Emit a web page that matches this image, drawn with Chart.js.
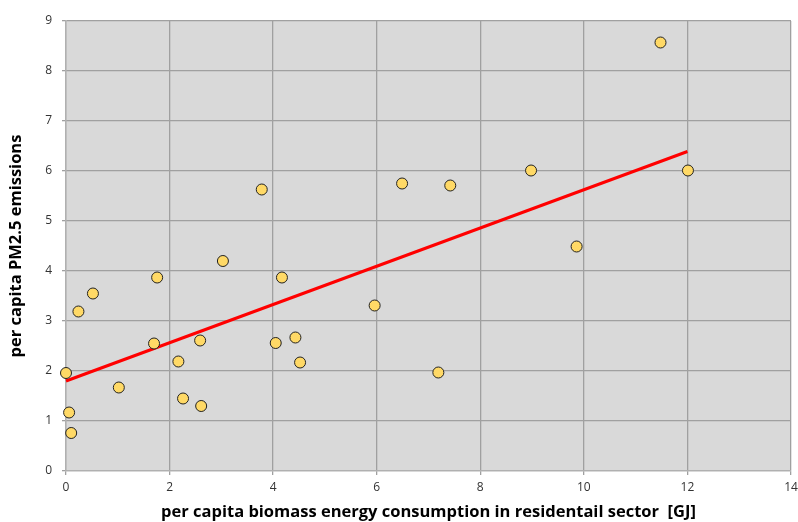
<!DOCTYPE html>
<html>
<head>
<meta charset="utf-8">
<script src="https://cdn.jsdelivr.net/npm/chart.js@4"></script>
<style>
  html, body { margin: 0; padding: 0; background: #fff; }
  #wrap { width: 798px; height: 522px; }
</style>
</head>
<body>
<div id="wrap"><canvas id="pmChart" width="798" height="522"></canvas></div>
<script>
// biomass energy per capita [GJ] vs PM2.5 emissions per capita
const energyGJ = [0.00, 0.06, 0.10, 0.24, 0.52, 1.02, 1.70, 1.76, 2.17, 2.26, 2.59, 2.61, 3.03,
                  3.78, 4.05, 4.17, 4.43, 4.52, 5.96, 6.49, 7.19, 7.42, 8.98, 9.86, 11.48, 12.01];
const pm25 = [1.96, 1.17, 0.76, 3.19, 3.55, 1.67, 2.55, 3.87, 2.19, 1.45, 2.61, 1.30, 4.20,
              5.63, 2.56, 3.87, 2.67, 2.17, 3.31, 5.75, 1.97, 5.71, 6.01, 4.49, 8.57, 6.01];
// linear trend line end points
const trendX = [0, 12];
const trendY = [1.80, 6.39];

const xTicks = [0, 2, 4, 6, 8, 10, 12, 14];
const yTicks = [0, 1, 2, 3, 4, 5, 6, 7, 8, 9];

const tickFont = { family: "'Open Sans', 'Liberation Sans', sans-serif", size: 12 };
const titleFont = { family: "'Open Sans', 'Liberation Sans', sans-serif", size: 16.5, weight: 'bold' };

// fill the plot area grey
const plotBg = {
    id: 'plotBg',
    beforeDraw(chart) {
        const { ctx, chartArea: a } = chart;
        ctx.save();
        ctx.fillStyle = '#d9d9d9';
        ctx.fillRect(a.left, a.top, a.right - a.left, a.bottom - a.top);
        ctx.restore();
    }
};

const ctx = document.getElementById('pmChart');
new Chart(ctx, {
    type: 'scatter',
    data: {
        datasets: [{
            label: 'trend',
            type: 'line',
            data: trendX.map((x, i) => ({ x, y: trendY[i] })),
            borderColor: '#ff0000',
            borderWidth: 3,
            pointRadius: 0,
            fill: false,
            clip: false,
            order: 2
        }, {
            label: 'countries',
            data: energyGJ.map((x, i) => ({ x, y: pm25[i] })),
            backgroundColor: '#ffd966',
            borderColor: '#222',
            borderWidth: 1,
            pointRadius: 5.5,
            clip: false,
            order: 1
        }]
    },
    options: {
        responsive: false,
        animation: false,
        layout: { padding: { top: 21, right: 0, left: 0, bottom: 0 } },
        plugins: {
            legend: { display: false },
            tooltip: { enabled: false }
        },
        scales: {
            x: {
                type: 'linear',
                min: 0,
                max: 14,
                afterBuildTicks: s => { s.ticks = xTicks.map(v => ({ value: v })); },
                afterFit: s => { s.height = 51; s.paddingRight = 7; },
                ticks: { font: tickFont, color: '#333', padding: 5 },
                grid: { color: '#a0a0a0', lineWidth: 1.3, tickLength: 4, tickColor: '#a0a0a0' },
                border: { color: '#b0b0b0', width: 1.3 },
                title: {
                    display: true,
                    text: 'per capita biomass energy consumption in residentail sector  [GJ]',
                    font: titleFont,
                    color: '#000',
                    padding: { top: 0, bottom: 0 }
                }
            },
            y: {
                min: 0,
                max: 9,
                afterBuildTicks: s => { s.ticks = yTicks.map(v => ({ value: v })); },
                afterFit: s => { s.width = 66; },
                ticks: { font: tickFont, color: '#333', padding: 10 },
                grid: { color: '#a0a0a0', lineWidth: 1.3, tickLength: 4, tickColor: '#a0a0a0' },
                border: { color: '#b0b0b0', width: 1.3 },
                title: {
                    display: true,
                    text: 'per capita PM2.5 emissions',
                    font: titleFont,
                    color: '#000',
                    padding: { top: 6, bottom: 0 }
                }
            }
        }
    },
    plugins: [plotBg]
});
</script>
</body>
</html>
